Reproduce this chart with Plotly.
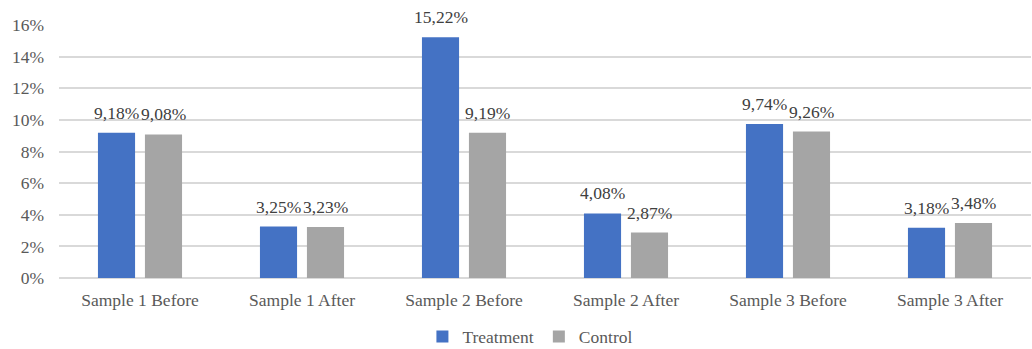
import plotly.graph_objects as go

categories = ["Sample 1 Before", "Sample 1 After", "Sample 2 Before",
              "Sample 2 After", "Sample 3 Before", "Sample 3 After"]
treatment = [9.18, 3.25, 15.22, 4.08, 9.74, 3.18]
control = [9.08, 3.23, 9.19, 2.87, 9.26, 3.48]

FONT = "Liberation Serif, Times New Roman, serif"
TICK_SIZE = 17.5

series = [("Treatment", treatment, "#4472C4", -23.5),
          ("Control", control, "#A5A5A5", 23.5)]

fig = go.Figure()
for name, vals, color, _ in series:
    fig.add_trace(go.Bar(
        name=name, x=categories, y=vals,
        marker=dict(color=color, line=dict(width=0)),
        cliponaxis=False,
    ))

# value labels sitting above each bar of the group
annotations = []
for name, vals, color, dx in series:
    for cat, v in zip(categories, vals):
        annotations.append(dict(
            x=cat, y=v, xref="x", yref="y",
            text=f"{v:.2f}%".replace(".", ","),
            showarrow=False, xshift=dx, yshift=20,
            xanchor="center", yanchor="middle",
            font=dict(family=FONT, size=TICK_SIZE, color="#404040"),
        ))

fig.update_layout(
    width=1032, height=349,
    margin=dict(l=59, r=1, t=25, b=71, autoexpand=False),
    paper_bgcolor="white", plot_bgcolor="white",
    barmode="group", bargap=0.42, bargroupgap=0.21,
    font=dict(family=FONT, size=TICK_SIZE, color="#595959"),
    annotations=annotations,
    showlegend=True,
    legend=dict(orientation="h", x=0.485, xanchor="center", y=-0.232, yanchor="middle",
                font=dict(family=FONT, size=TICK_SIZE, color="#595959"),
                itemwidth=30, traceorder="normal"),
    xaxis=dict(showgrid=False, showline=False, ticks="", automargin=False,
               ticklabelstandoff=9,
               tickfont=dict(family=FONT, size=TICK_SIZE, color="#595959")),
    yaxis=dict(range=[0, 16], dtick=2, ticksuffix="%", showline=False,
               ticks="", automargin=False, ticklabelstandoff=14,
               gridcolor="#D9D9D9", gridwidth=1.5, zeroline=True,
               zerolinecolor="#D9D9D9", zerolinewidth=1.5,
               tickfont=dict(family=FONT, size=TICK_SIZE, color="#595959")),
)

fig.write_html("out.html")
